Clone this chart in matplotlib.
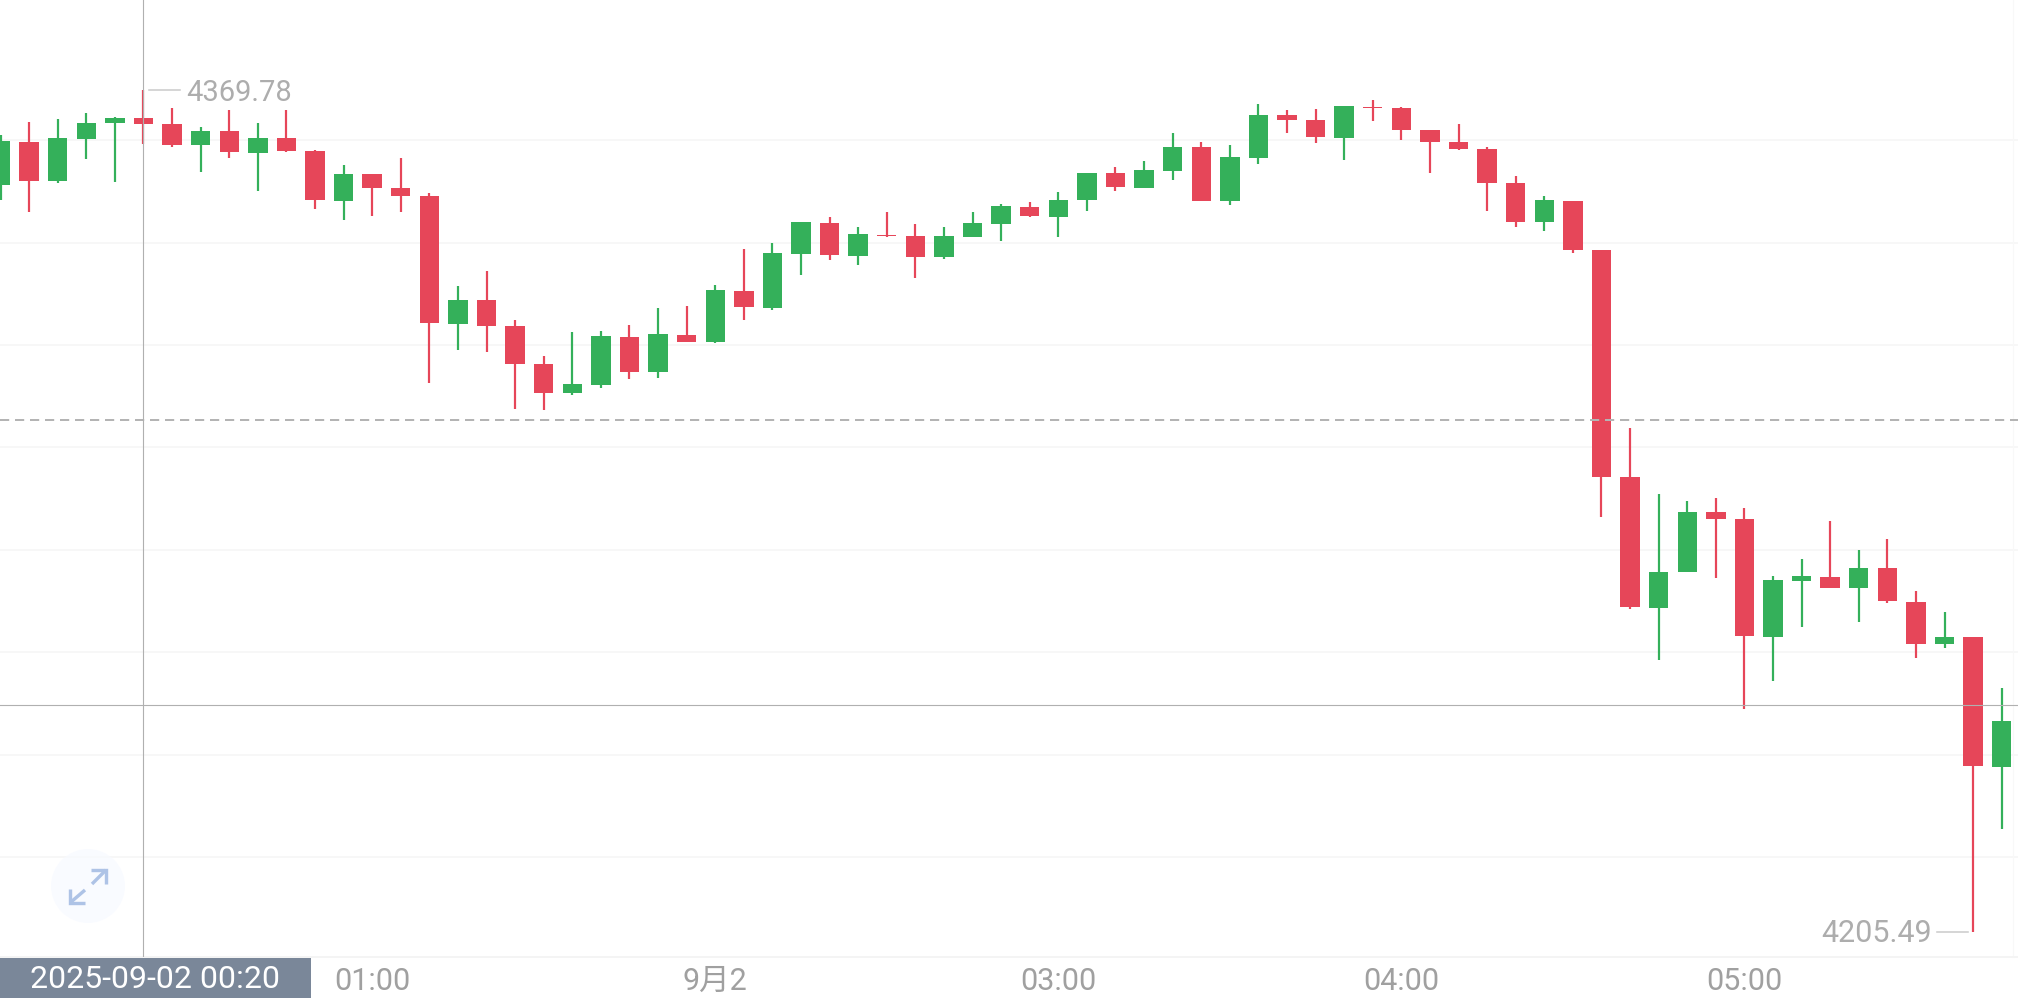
import matplotlib
matplotlib.use("Agg")
import matplotlib.pyplot as plt
from matplotlib.patches import Circle, Rectangle

plt.rcParams['font.family'] = ['Roboto', 'Noto Sans CJK SC', 'DejaVu Sans']

# one 5 minute candle per entry, first one is 2025-09-01 23:55
opens = [4351.2, 4359.7, 4352.0, 4360.3, 4363.3, 4364.3, 4363.1, 4359.0, 4361.7, 4357.5,
         4360.4, 4357.9, 4348.2, 4353.3, 4350.6, 4349.0, 4324.2, 4328.7, 4323.8, 4316.3,
         4310.6, 4312.2, 4321.6, 4314.7, 4322.0, 4320.5, 4330.6, 4327.3, 4337.8, 4343.9,
         4337.4, 4341.5, 4341.3, 4337.2, 4341.1, 4343.7, 4347.0, 4345.0, 4348.3, 4353.6,
         4350.7, 4354.0, 4358.7, 4348.1, 4356.6, 4364.9, 4363.9, 4360.4, 4366.5, 4366.2,
         4362.0, 4359.6, 4358.3, 4351.6, 4344.0, 4348.2, 4338.5, 4294.2, 4268.7, 4275.6,
         4287.4, 4286.0, 4263.1, 4273.9, 4274.7, 4272.5, 4276.4, 4269.9, 4261.6, 4263.0,
         4237.7]
closes = [4359.8, 4352.1, 4360.4, 4363.4, 4364.3, 4363.2, 4359.0, 4361.8, 4357.7, 4360.4,
          4357.9, 4348.3, 4353.4, 4350.6, 4349.0, 4324.3, 4328.8, 4323.8, 4316.3, 4310.7,
          4312.4, 4321.7, 4314.7, 4322.1, 4320.6, 4330.7, 4327.4, 4338.0, 4344.0, 4337.5,
          4341.6, 4341.2, 4337.2, 4341.3, 4343.9, 4347.1, 4345.1, 4348.3, 4353.6, 4350.8,
          4354.2, 4358.7, 4348.2, 4356.7, 4364.9, 4364.0, 4360.6, 4366.7, 4366.2, 4362.0,
          4359.7, 4358.3, 4351.7, 4344.0, 4348.3, 4338.5, 4294.3, 4268.9, 4275.6, 4287.4,
          4286.0, 4263.2, 4274.1, 4274.9, 4272.6, 4276.5, 4270.0, 4261.7, 4263.1, 4237.8,
          4246.6]
highs = [4361.0, 4363.5, 4364.1, 4365.3, 4364.6, 4369.78, 4366.3, 4362.5, 4365.9, 4363.3,
         4365.9, 4358.1, 4355.1, 4353.3, 4356.6, 4349.7, 4331.5, 4334.5, 4324.9, 4317.9,
         4322.5, 4322.8, 4323.9, 4327.3, 4327.6, 4331.7, 4338.7, 4340.0, 4344.0, 4344.9,
         4343.0, 4346.0, 4343.6, 4343.1, 4346.0, 4347.5, 4347.9, 4349.9, 4353.6, 4354.7,
         4355.9, 4361.3, 4359.7, 4359.0, 4367.1, 4365.9, 4366.0, 4366.7, 4367.8, 4366.5,
         4362.0, 4363.1, 4358.7, 4353.0, 4349.1, 4348.2, 4338.5, 4303.8, 4291.0, 4289.5,
         4290.1, 4288.1, 4274.9, 4278.3, 4285.6, 4279.9, 4282.1, 4271.9, 4267.8, 4263.0,
         4253.0]
lows = [4348.3, 4346.0, 4351.6, 4356.3, 4351.8, 4359.2, 4358.6, 4353.8, 4356.6, 4350.1,
        4357.6, 4346.6, 4344.5, 4345.2, 4346.0, 4312.5, 4319.0, 4318.7, 4307.6, 4307.3,
        4310.3, 4311.7, 4313.4, 4313.5, 4320.5, 4320.4, 4324.9, 4326.8, 4333.6, 4336.5,
        4335.6, 4341.0, 4333.1, 4336.8, 4341.1, 4340.4, 4344.9, 4341.0, 4346.2, 4350.0,
        4350.7, 4352.2, 4348.2, 4347.3, 4355.4, 4361.3, 4359.5, 4356.1, 4363.7, 4360.0,
        4353.6, 4358.1, 4346.2, 4343.0, 4342.3, 4337.9, 4286.5, 4268.4, 4258.6, 4275.6,
        4274.5, 4249.0, 4254.5, 4265.0, 4272.6, 4266.0, 4269.7, 4259.0, 4260.8, 4205.49,
        4225.5]

tick_index = [13, 25, 37, 49, 61]
tick_labels = ['01:00', '9月2', '03:00', '04:00', '05:00']
grid_prices = [4360, 4340, 4320, 4300, 4280, 4260, 4240, 4220]
last_price = 4305.4
cross_price = 4249.7
cross_index = 5
cross_time = '2025-09-02 00:20'
max_index, min_index = 5, 69

RED = '#e64659'
GREEN = '#34b05a'
PX = 0.72  # one pixel in points at dpi 100

fig = plt.figure(figsize=(20.18, 9.98), dpi=100, facecolor='white')
ax = fig.add_axes([0, 41 / 998, 1, 957 / 998])
ax.set_xlim(-0.019, 70.57)
ax.set_ylim(4200.54, 4387.35)

ax.set_yticks(grid_prices)
ax.set_yticklabels([])
ax.grid(axis='y', color='#f6f6f6', linewidth=1.6 * PX)
ax.set_axisbelow(True)
ax.tick_params(axis='y', length=0)
ax.set_xticks(tick_index)
ax.set_xticklabels(tick_labels, fontsize=22, color='#a0a0a0')
ax.tick_params(axis='x', length=0, pad=7)

for name in ['top', 'left']:
    ax.spines[name].set_visible(False)
ax.spines['right'].set_color('#f8f8f8')
ax.spines['right'].set_position(('data', 70.4))
ax.spines['bottom'].set_color('#f4f4f4')
ax.spines['bottom'].set_linewidth(2 * PX)

x = list(range(len(opens)))
colors = [GREEN if c > o else RED for o, c in zip(opens, closes)]
ax.vlines(x, lows, highs, colors=colors, linewidth=2.2 * PX, zorder=3)
ax.bar(x, [abs(c - o) for o, c in zip(opens, closes)], bottom=[min(o, c) for o, c in zip(opens, closes)],
       width=0.68, color=colors, linewidth=0, zorder=4)

ax.axhline(last_price, color='#b4b4b4', linewidth=2 * PX, dashes=(4.6, 2.9), zorder=5)
ax.axhline(cross_price, color='#b0b0b0', linewidth=1.1 * PX, zorder=5)
ax.axvline(cross_index, color='#b0b0b0', linewidth=1.1 * PX, zorder=5)

# max / min labels, offset in pixels from the wick tips
ax.annotate('%.2f' % highs[max_index], xy=(max_index, highs[max_index]), xytext=(43, -3),
            textcoords='offset pixels', fontsize=21, color='#adadad', va='center', ha='left')
ax.annotate('%.2f' % lows[min_index], xy=(min_index, lows[min_index]), xytext=(-41, -2),
            textcoords='offset pixels', fontsize=22, color='#adadad', va='center', ha='right')

# overlay in image pixels for the app furniture
over = fig.add_axes([0, 0, 1, 1], zorder=10)
over.set_xlim(0, 2018)
over.set_ylim(998, 0)
over.axis('off')
over.patch.set_alpha(0)

over.plot([149, 180], [90, 90], color='#cccccc', linewidth=1.6 * PX)
over.plot([1937, 1968], [932, 932], color='#cccccc', linewidth=1.6 * PX)

over.add_patch(Rectangle((0, 958), 311, 40, facecolor='#7a8799', edgecolor='none'))
over.text(155, 979, cross_time, color='white', fontsize=23, ha='center', va='center')

over.add_patch(Circle((88, 886), 37, facecolor='#f7faff', edgecolor='none', alpha=0.7))
arrow_color = '#aec3e6'
for xs, ys in [([92, 106], [884, 870]), ([91, 106, 106], [870, 870, 884]),
               ([85, 71], [890, 902]), ([70, 70, 85], [889, 903, 903])]:
    over.plot(xs, ys, color=arrow_color, linewidth=3.4 * PX, solid_capstyle='butt', solid_joinstyle='miter')

fig.savefig('out.png', dpi=100)
